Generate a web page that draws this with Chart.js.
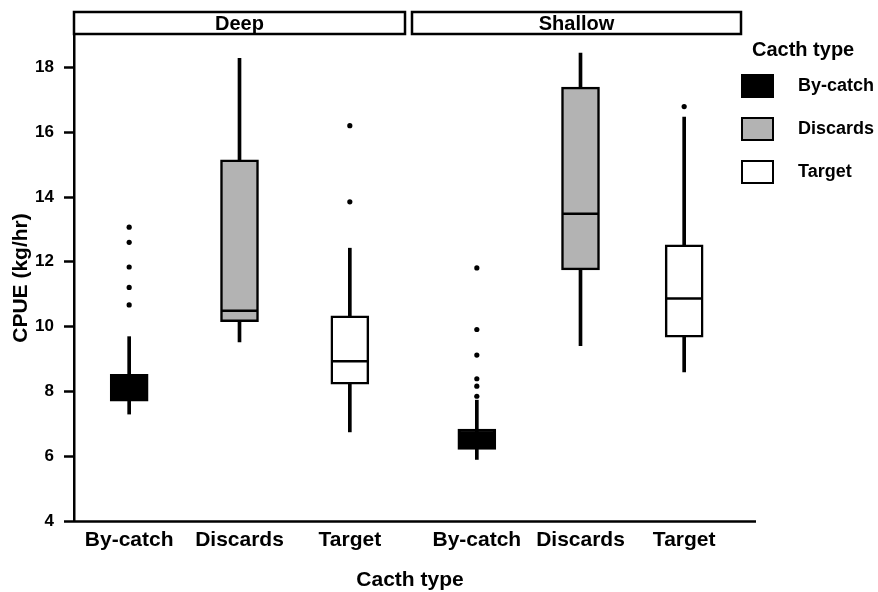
<!DOCTYPE html>
<html>
<head>
<meta charset="utf-8">
<title>CPUE by catch type</title>
<script src="https://cdn.jsdelivr.net/npm/chart.js@4.4.1/dist/chart.umd.min.js"></script>
<style>
  html, body { margin: 0; padding: 0; background: #fff; }
  #wrap { position: relative; width: 878px; height: 592px; }
  #wrap canvas { position: absolute; left: 0; top: 0; }
</style>
</head>
<body>
<div id="wrap">
  <canvas id="deep" width="878" height="592"></canvas>
  <canvas id="shallow" width="878" height="592"></canvas>
</div>
<script>
const catchTypes = ["By-catch", "Discards", "Target"];
const boxColors = ["#000000", "#b3b3b3", "#ffffff"];
const yTitle = "CPUE (kg/hr)";
const xTitle = "Cacth type";

// Deep
const deepLow = [7.30, 9.53, 6.75];
const deepQ1 = [7.70, 10.15, 8.22];
const deepMedian = [8.10, 10.49, 8.93];
const deepQ3 = [8.53, 15.15, 10.33];
const deepHigh = [9.69, 18.28, 12.42];
const deepOutliers = [[13.07, 12.60, 11.84, 11.21, 10.67], [], [16.20, 13.85]];

// Shallow
const shallowLow = [5.90, 9.41, 8.60];
const shallowQ1 = [6.21, 11.75, 9.67];
const shallowMedian = [6.50, 13.48, 10.87];
const shallowQ3 = [6.84, 17.39, 12.52];
const shallowHigh = [7.73, 18.44, 16.47];
const shallowOutliers = [[11.81, 9.91, 9.12, 8.39, 8.16, 7.85], [], [16.79]];

const FONT = "'Liberation Sans', Arial, Helvetica, sans-serif";
Chart.defaults.font.family = FONT;
Chart.defaults.color = "#000";

function boxDatasets(low, q1, med, q3, high, outliers) {
    const outlierPoints = [];
    outliers.forEach((vals, i) => {
        vals.forEach(v => outlierPoints.push({ x: catchTypes[i], y: v }));
    });
    return [
        {   // whiskers
            type: "bar",
            data: catchTypes.map((c, i) => [low[i], high[i]]),
            backgroundColor: "#000",
            barThickness: 3,
            grouped: false,
            order: 3
        },
        {   // boxes
            type: "bar",
            data: catchTypes.map((c, i) => [q1[i], q3[i]]),
            backgroundColor: boxColors,
            borderColor: "#000",
            borderWidth: 2.5,
            borderSkipped: false,
            barThickness: 38,
            grouped: false,
            order: 2
        },
        {   // medians
            type: "line",
            data: med,
            showLine: false,
            pointStyle: "line",
            pointRadius: 18,
            pointHoverRadius: 18,
            pointBorderWidth: 2.5,
            pointBorderColor: "#000",
            order: 1
        },
        {   // outliers
            type: "line",
            data: outlierPoints,
            showLine: false,
            pointRadius: 2.6,
            pointHoverRadius: 2.6,
            pointBackgroundColor: "#000",
            pointBorderWidth: 0,
            order: 0
        }
    ];
}

// strip header, shared x axis line, x title and legend
const facetPlugin = {
    id: "facet",
    afterDraw(chart, args, opts) {
        const { ctx, chartArea } = chart;
        ctx.save();
        ctx.strokeStyle = "#000";
        ctx.lineWidth = 2.5;

        const x0 = chartArea.left + opts.stripLeft;
        const x1 = chartArea.right + opts.stripRight;
        const y1 = chartArea.top - 1;
        const y0 = chartArea.top - 23;
        ctx.fillStyle = "#fff";
        ctx.fillRect(x0, y0, x1 - x0, y1 - y0);
        ctx.strokeRect(x0, y0, x1 - x0, y1 - y0);
        ctx.fillStyle = "#000";
        ctx.font = "bold 20px " + FONT;
        ctx.textAlign = "center";
        ctx.textBaseline = "middle";
        ctx.fillText(opts.label, (x0 + x1) / 2, (y0 + y1) / 2 + 1);

        if (opts.axisLine) {
            ctx.beginPath();
            ctx.moveTo(opts.axisLine[0], chartArea.bottom + 0.5);
            ctx.lineTo(opts.axisLine[1], chartArea.bottom + 0.5);
            ctx.stroke();
        }

        if (opts.xTitle) {
            ctx.font = "bold 21px " + FONT;
            ctx.fillText(opts.xTitle.text, opts.xTitle.x, opts.xTitle.y);
        }

        if (opts.legend) {
            const lg = opts.legend;
            ctx.textAlign = "left";
            ctx.font = "bold 20px " + FONT;
            ctx.fillText(lg.title, lg.x + 10, lg.y);
            ctx.font = "bold 18px " + FONT;
            ctx.lineWidth = 2;
            catchTypes.forEach((name, i) => {
                const cy = lg.y + 36 + i * 43;
                ctx.fillStyle = boxColors[i];
                ctx.fillRect(lg.x, cy - 11, 31, 22);
                ctx.strokeRect(lg.x, cy - 11, 31, 22);
                ctx.fillStyle = "#000";
                ctx.fillText(name, lg.x + 56, cy);
            });
        }
        ctx.restore();
    }
};

function xScale() {
    return {
        ticks: {
            color: "#000",
            font: { size: 21, weight: "bold" },
            padding: 7,
            maxRotation: 0,
            autoSkip: false
        },
        grid: { display: false, drawTicks: false },
        border: { display: false },
        afterFit: s => { s.height = 50; }
    };
}

const deepChart = new Chart(document.getElementById("deep"), {
    type: "bar",
    data: {
        labels: catchTypes,
        datasets: boxDatasets(deepLow, deepQ1, deepMedian, deepQ3, deepHigh, deepOutliers)
    },
    options: {
        responsive: false,
        animation: false,
        layout: { padding: { top: 35, right: 473, bottom: 21, left: 0 } },
        scales: {
            x: xScale(),
            y: {
                min: 4,
                max: 19,
                ticks: {
                    stepSize: 2,
                    includeBounds: false,
                    color: "#000",
                    font: { size: 17, weight: "bold" },
                    padding: 10
                },
                grid: {
                    display: true,
                    drawOnChartArea: false,
                    drawTicks: true,
                    tickLength: 10,
                    tickWidth: 2.5,
                    tickColor: "#000"
                },
                border: { display: true, color: "#000", width: 2.5 },
                title: {
                    display: true,
                    text: yTitle,
                    color: "#000",
                    font: { size: 21, weight: "bold" },
                    padding: { top: 9, bottom: 0 }
                },
                afterFit: s => { s.width = 74; }
            }
        },
        plugins: {
            legend: { display: false },
            tooltip: { enabled: false },
            facet: { label: "Deep", stripLeft: 0, stripRight: 0 }
        }
    },
    plugins: [facetPlugin]
});

const shallowChart = new Chart(document.getElementById("shallow"), {
    type: "bar",
    data: {
        labels: catchTypes,
        datasets: boxDatasets(shallowLow, shallowQ1, shallowMedian, shallowQ3, shallowHigh, shallowOutliers)
    },
    options: {
        responsive: false,
        animation: false,
        layout: { padding: { top: 35, right: 142, bottom: 21, left: 425 } },
        scales: {
            x: xScale(),
            y: { display: false, min: 4, max: 19 }
        },
        plugins: {
            legend: { display: false },
            tooltip: { enabled: false },
            facet: {
                label: "Shallow",
                stripLeft: -13,
                stripRight: 5,
                axisLine: [73, 756],
                xTitle: { text: xTitle, x: 410, y: 580 },
                legend: { title: "Cacth type", x: 742, y: 50 }
            }
        }
    },
    plugins: [facetPlugin]
});
</script>
</body>
</html>
